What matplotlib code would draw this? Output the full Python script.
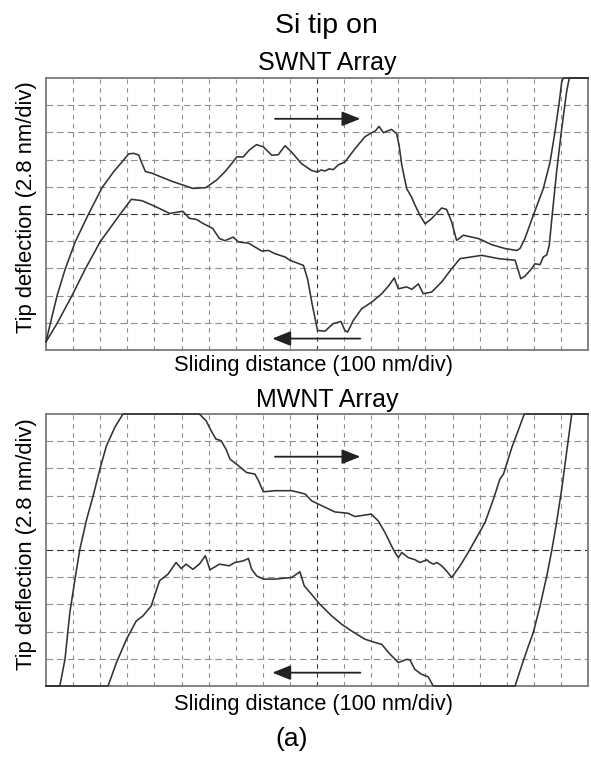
import numpy as np
import matplotlib as mpl
import matplotlib.pyplot as plt

mpl.rcParams['font.family'] = ['Liberation Sans', 'DejaVu Sans']

W, H = 591, 758

# SWNT array: forward (upper) and return (lower) traces, in grid divisions
swnt_fwd_x = [0, 0.16, 0.41, 0.71, 1.08, 1.57, 2.07, 2.5, 2.87, 3.05, 3.23, 3.42, 3.54, 3.67,
              3.91, 4.2, 4.68, 5.1, 5.42, 5.9, 6.3, 6.6, 6.85, 7.04, 7.28, 7.5, 7.77, 8.02,
              8.33, 8.57, 8.82, 9.06, 9.43, 9.8, 10.02, 10.15, 10.29, 10.45, 10.6, 10.79,
              11.03, 11.4, 11.77, 12.02, 12.15, 12.29, 12.45, 12.6, 12.75, 12.94, 13.03,
              13.13, 13.31, 13.49, 13.62, 13.8, 13.99, 14.23, 14.6, 14.78, 14.97, 15.15,
              15.4, 15.98, 16.45, 16.94, 17.37, 17.49, 17.67, 17.98, 18.35, 18.6, 18.78,
              18.94, 19.03, 19.09, 20]
swnt_fwd_y = [0.3, 0.98, 2.0, 2.98, 3.98, 5.0, 5.97, 6.56, 6.99, 7.21, 7.23, 7.17, 6.86, 6.56,
              6.5, 6.38, 6.19, 6.05, 5.94, 5.97, 6.25, 6.55, 6.85, 7.1, 7.1, 7.35, 7.55, 7.47,
              7.16, 7.18, 7.51, 7.28, 6.85, 6.6, 6.54, 6.62, 6.58, 6.66, 6.63, 6.81,
              6.91, 7.4, 7.84, 7.99, 8.05, 8.22, 7.99, 8.05, 8.11, 7.95, 7.52,
              6.79, 5.93, 5.62, 5.32, 4.95, 4.64, 4.83, 5.22, 5.17, 4.71, 4.03,
              4.22, 4.09, 3.87, 3.73, 3.66, 3.73, 4.09, 4.95, 5.93, 6.91, 8.01,
              9.12, 9.85, 10, 10]

swnt_ret_x = [0, 0.41, 0.96, 1.45, 2.0, 2.74, 3.15, 3.54, 3.91, 4.3, 4.56, 5.05, 5.29, 5.55,
              5.78, 6.15, 6.4, 6.6, 6.91, 7.1, 7.47, 7.96, 8.21, 8.45, 8.82, 9.0, 9.5, 9.65,
              9.83, 10.02, 10.29, 10.6, 10.88, 11.03, 11.13, 11.34, 11.65, 12.02, 12.39,
              12.66, 12.85, 13.0, 13.31, 13.5, 13.74, 13.92, 14.23, 14.6, 14.97, 15.28,
              16.08, 16.69, 17.31, 17.52, 17.68, 17.92, 18.04, 18.23, 18.35, 18.48, 18.57,
              18.69, 18.84, 19.03, 19.21, 19.31, 20]
swnt_ret_y = [0.3, 0.98, 2.0, 2.98, 3.98, 5.0, 5.54, 5.49, 5.33, 5.15, 5.02, 5.1, 4.84, 4.8,
              4.66, 4.47, 4.1, 4.02, 4.15, 3.97, 3.93, 3.64, 3.66, 3.54, 3.42, 3.3, 3.11, 2.62,
              1.64, 0.72, 0.69, 0.97, 1.05, 0.72, 0.66, 1.09, 1.52, 1.76, 2.07,
              2.38, 2.65, 2.25, 2.32, 2.23, 2.43, 2.07, 2.13, 2.5, 2.99, 3.36,
              3.48, 3.36, 3.3, 2.62, 2.72, 2.99, 3.17, 3.14, 3.42, 3.5, 3.85,
              5.07, 6.54, 8.14, 9.49, 10, 10]

# MWNT array traces
mwnt_fwd_x = [0, 0.51, 0.7, 0.88, 1.07, 1.25, 1.5, 1.74, 1.99, 2.23, 2.54, 2.84, 5.66, 5.91,
              6.09, 6.27, 6.46, 6.64, 6.79, 7.1, 7.4, 7.71, 7.84, 8.02, 8.45, 9.07, 9.56,
              9.8, 10.17, 10.66, 11.15, 11.4, 12.0, 12.26, 12.51, 12.75, 12.88, 13.0,
              13.13, 13.37, 13.62, 13.8, 14.05, 14.17, 14.3, 14.42, 14.6, 14.78, 14.97,
              15.28, 15.58, 15.89, 16.2, 16.51, 16.75, 16.88, 17.19, 17.65, 20]
mwnt_fwd_y = [0, 0, 0.98, 2.7, 3.93, 5.03, 6.13, 6.99, 7.98, 8.83, 9.51, 10, 10, 9.75,
              9.39, 9.08, 9.02, 8.71, 8.34, 8.1, 7.85, 7.79, 7.55, 7.14, 7.18, 7.18, 7.06,
              6.81, 6.63, 6.4, 6.35, 6.23, 6.32, 6.07, 5.64, 5.15, 4.91, 4.72,
              4.91, 4.72, 4.64, 4.54, 4.64, 4.54, 4.48, 4.54, 4.42, 4.23, 3.99,
              4.42, 4.91, 5.46, 6.01, 6.87, 7.61, 7.79, 8.77, 10, 10]

mwnt_ret_x = [0, 2.29, 2.6, 2.97, 3.33, 3.58, 3.88, 4.19, 4.5, 4.8, 4.99, 5.17, 5.42, 5.66,
              5.88, 6.05, 6.4, 6.76, 6.97, 7.28, 7.47, 7.59, 7.77, 8.02, 8.45, 9.07, 9.37,
              9.53, 9.8, 10.1, 10.54, 10.91, 11.28, 11.77, 12.14, 12.39, 12.64, 13.0,
              13.31, 13.43, 13.61, 13.86, 14.1, 14.29, 17.31, 17.55, 17.8, 17.98, 18.23,
              18.48, 18.66, 18.84, 19.03, 19.21, 19.4, 20]
mwnt_ret_y = [0, 0, 0.86, 1.72, 2.39, 2.58, 2.94, 3.87, 4.11, 4.54, 4.32, 4.48, 4.29, 4.48,
              4.79, 4.27, 4.48, 4.42, 4.54, 4.6, 4.69, 4.29, 4.05, 3.93, 3.93, 3.99, 4.2,
              3.68, 3.37, 3.01, 2.58, 2.27, 2.02, 1.72, 1.6, 1.53, 1.23, 0.86,
              0.98, 0.96, 0.61, 0.43, 0.34, 0, 0, 0.74, 1.47, 1.96, 2.94,
              4.05, 4.97, 6.01, 7.24, 8.59, 10, 10]

# direction arrows (x tail, x head, y) per panel
arrows = {
    'SWNT': [(8.45, 11.6, 8.5), (11.6, 8.35, 0.42)],
    'MWNT': [(8.45, 11.6, 8.43), (11.6, 8.35, 0.49)],
}

n_xdiv, n_ydiv = 20, 10
line_c = '#333333'
grid_c = '#909090'


def px(x, y):
    return x / W, 1 - y / H


def scope(ax, fwd, ret, arr):
    ax.set_xlim(0, n_xdiv)
    ax.set_ylim(0, n_ydiv)
    for i in range(1, n_xdiv):
        dark = i == n_xdiv // 2
        ax.axvline(i, color='#303030' if dark else grid_c, lw=0.8,
                   ls=(0, (4, 4)), zorder=1)
    for j in range(1, n_ydiv):
        dark = j == n_ydiv // 2
        ax.axhline(j, color='#303030' if dark else grid_c, lw=0.8,
                   ls=(0, (6, 3.5)), zorder=1)
    for xs, ys in (fwd, ret):
        ax.plot(xs, ys, color=line_c, lw=1.15, clip_on=False, zorder=3,
                solid_joinstyle='round')
    for x0, x1, y in arr:
        ax.annotate('', xy=(x1, y), xytext=(x0, y),
                    arrowprops=dict(arrowstyle='-|>,head_length=0.7,head_width=0.28',
                                    color='#222222', lw=1.3, mutation_scale=16,
                                    shrinkA=0, shrinkB=0))
    ax.set_xticks([])
    ax.set_yticks([])
    for s in ax.spines.values():
        s.set_color('#7a7a7a')
        s.set_linewidth(1.3)


fig = plt.figure(figsize=(W / 100, H / 100), dpi=100)
ax1 = fig.add_axes([46 / W, 1 - 350 / H, 542 / W, 272 / H])
ax2 = fig.add_axes([46 / W, 1 - 686 / H, 542 / W, 272 / H])

scope(ax1, (swnt_fwd_x, swnt_fwd_y), (swnt_ret_x, swnt_ret_y), arrows['SWNT'])
scope(ax2, (mwnt_fwd_x, mwnt_fwd_y), (mwnt_ret_x, mwnt_ret_y), arrows['MWNT'])

fig.text(*px(326, 33), 'Si tip on', ha='center', va='baseline', fontsize=20.5)
fig.text(*px(327, 70), 'SWNT Array', ha='center', va='baseline', fontsize=18)
fig.text(*px(314, 371), 'Sliding distance (100 nm/div)', ha='center', va='baseline', fontsize=15.7)
fig.text(*px(327, 407), 'MWNT Array', ha='center', va='baseline', fontsize=18)
fig.text(*px(314, 710), 'Sliding distance (100 nm/div)', ha='center', va='baseline', fontsize=15.7)
fig.text(*px(292, 746), '(a)', ha='center', va='baseline', fontsize=19)
fig.text(*px(27, 207), 'Tip deflection (2.8 nm/div)', ha='center', va='center',
         rotation=90, fontsize=15.8)
fig.text(*px(27, 544), 'Tip deflection (2.8 nm/div)', ha='center', va='center',
         rotation=90, fontsize=15.8)

fig.savefig('out.png', dpi=100)
